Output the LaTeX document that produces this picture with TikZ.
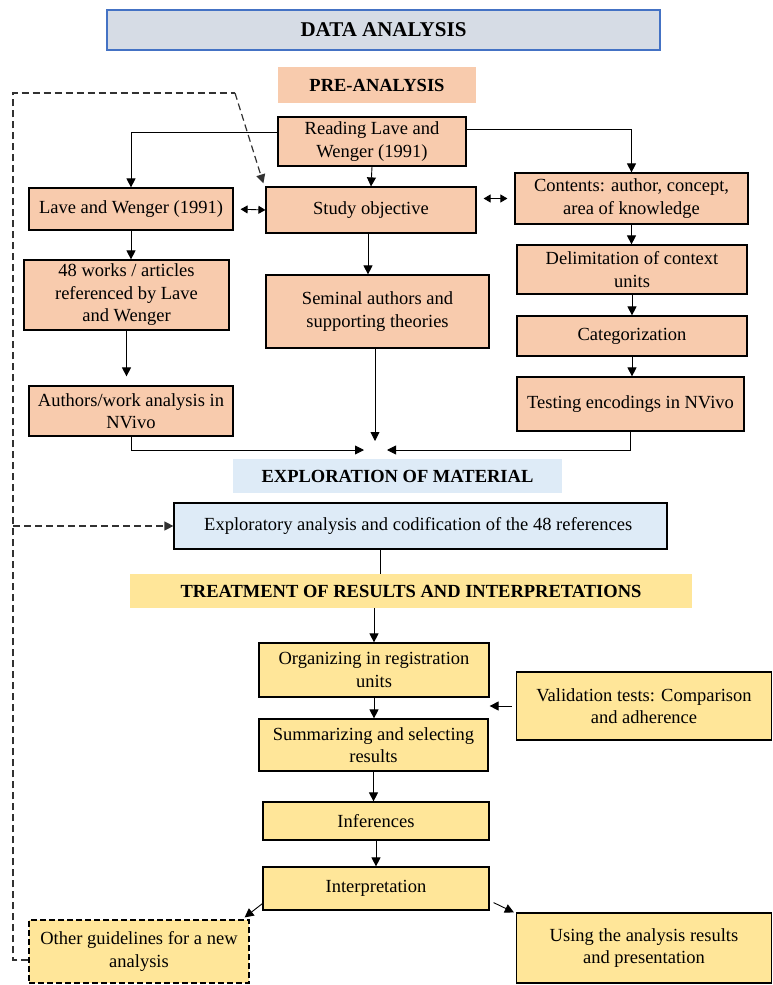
\documentclass[tikz,border=0pt]{standalone}
\usepackage{fontspec}
\setmainfont{Liberation Serif}
\usetikzlibrary{arrows.meta, positioning, calc}
\definecolor{cPreFill}{RGB}{248, 203, 173}
\definecolor{cExpFill}{RGB}{222, 235, 247}
\definecolor{cTreatFill}{RGB}{255, 230, 153}
\definecolor{cTitleFill}{RGB}{214, 220, 229}
\definecolor{cTitleDraw}{RGB}{68, 114, 196}
\definecolor{loopColor}{RGB}{50, 50, 50}
\tikzset{
    font=\fontsize{18.5}{22.5}\selectfont,
    % basic boxes
    block/.style={
        rectangle, draw=black, line width=1.2pt,
        align=center, inner sep=3pt
    },
    headBlock/.style={
        rectangle, align=center, inner sep=3pt,
        font=\fontsize{18.5}{22.5}\selectfont\bfseries
    },
    % phase colours
    preLayer/.style={block, fill=cPreFill},
    expLayer/.style={block, fill=cExpFill},
    treatLayer/.style={block, fill=cTreatFill},
    conn/.style={draw=black, line width=0.9pt, -{Triangle[length=9pt, width=9pt]}},
    biConn/.style={conn, {Triangle[length=7pt, width=8pt]}-{Triangle[length=7pt, width=8pt]}},
    % feedback loop
    loopLine/.style={draw=loopColor, line width=1.2pt, dash pattern=on 7pt off 4pt}
}
\begin{document}
\begin{tikzpicture}[x=1pt, y=-1pt]

	\useasboundingbox (0, 0) rectangle (773, 985);

	% ==========================================
	% Title
	% ==========================================
	\node [block, fill=cTitleFill, draw=cTitleDraw, minimum width=553pt, minimum height=40pt,
		font=\fontsize{21}{24}\selectfont\bfseries] (title) at (383.5, 30) {DATA ANALYSIS};

	% ==========================================
	% 1. Pre-analysis
	% ==========================================
	\node [headBlock, fill=cPreFill, minimum width=198pt, minimum height=36pt] (preHead) at (377, 85) {PRE-ANALYSIS};

	\node [preLayer, minimum width=188pt, minimum height=49pt] (reading) at (372, 141.5) {
		Reading Lave and\\
		Wenger (1991)
	};

	\node [preLayer, minimum width=204pt, minimum height=42pt] (lave) at (131, 209) {Lave and Wenger (1991)};

	\node [preLayer, minimum width=210pt, minimum height=46pt] (study) at (371, 210) {Study objective};

	\node [preLayer, minimum width=233pt, minimum height=51pt] (contents) at (631.5, 198.5) {
		Contents: author, concept,\\
		area of knowledge
	};

	% --- left column ---
	\node [preLayer, minimum width=205pt, minimum height=70pt] (works) at (126.5, 295) {
		48 works / articles\\
		referenced by Lave\\
		and Wenger
	};

	\node [preLayer, minimum width=204pt, minimum height=50pt] (authors) at (131, 411) {
		Authors/work analysis in\\
		NVivo
	};

	% --- middle column ---
	\node [preLayer, minimum width=223pt, minimum height=73pt] (seminal) at (377.5, 311.5) {
		Seminal authors and\\
		supporting theories
	};

	% --- right column ---
	\node [preLayer, minimum width=230pt, minimum height=49pt] (delim) at (632, 269.5) {
		Delimitation of context\\
		units
	};

	\node [preLayer, minimum width=230pt, minimum height=40pt] (categ) at (632, 336) {Categorization};

	\node [preLayer, minimum width=227pt, minimum height=54pt] (testing) at (630.5, 404) {Testing encodings in NVivo};

	% ==========================================
	% 2. Exploration of material
	% ==========================================
	\coordinate (merge) at (375, 450);

	\node [headBlock, fill=cExpFill, minimum width=329pt, minimum height=34pt] (expHead) at (397.5, 476) {EXPLORATION OF MATERIAL};

	\node [expLayer, minimum width=493pt, minimum height=46pt] (explor) at (420.5, 526) {
		Exploratory analysis and codification of the 48 references
	};

	% ==========================================
	% 3. Treatment of results
	% ==========================================
	\node [headBlock, fill=cTreatFill, minimum width=562pt, minimum height=34pt] (treatHead) at (411, 591) {TREATMENT OF RESULTS AND INTERPRETATIONS};

	\node [treatLayer, minimum width=230pt, minimum height=54pt] (organ) at (374, 670) {
		Organizing in registration\\
		units
	};

	\node [treatLayer, minimum width=255pt, minimum height=68pt] (valid) at (644, 706) {
		Validation tests: Comparison\\
		and adherence
	};

	\node [treatLayer, minimum width=229pt, minimum height=52pt] (summ) at (373.5, 745) {
		Summarizing and selecting\\
		results
	};

	\node [treatLayer, minimum width=226pt, minimum height=38pt] (infer) at (376, 821) {Inferences};

	\node [treatLayer, minimum width=226pt, minimum height=43pt] (interp) at (376, 888.5) {Interpretation};

	\node [treatLayer, dash pattern=on 6pt off 3pt, minimum width=220pt, minimum height=63pt] (other) at (139, 951.5) {
		Other guidelines for a new\\
		analysis
	};

	\node [treatLayer, minimum width=255pt, minimum height=70pt] (using) at (644, 948) {
		Using the analysis results\\
		and presentation
	};

	% ==========================================
	% Connectors
	% ==========================================
	\draw [conn] ([yshift=9pt]reading.west) -| (lave.north);
	\draw [conn] ([yshift=12pt]reading.east) -| (contents.north);
	\draw [conn] (reading.south) -- (study.north);

	\draw [biConn, shorten <=7pt] (lave.east) -- (study.west);
	\draw [biConn, shorten <=7pt, shorten >=7pt] (study.east |- contents.west) -- (contents.west);

	\draw [conn] (lave.south) -- (lave.south |- works.north);
	\draw [conn, shorten >=9pt] (works.south) -- (works.south |- authors.north);
	\draw [conn] ([xshift=-3pt]study.south) -- ([xshift=-3pt]study.south |- seminal.north);

	\draw [conn] (contents.south) -- (contents.south |- delim.north);
	\draw [conn] (delim.south) -- (delim.south |- categ.north);
	\draw [conn] (categ.south) -- (categ.south |- testing.north);

	\draw [conn] (authors.south) |- ([xshift=-11pt]merge);
	\draw [conn] (testing.south) |- ([xshift=12pt]merge);
	\draw [conn] (seminal.south -| merge) -- ([yshift=9pt]merge);

	\draw [line width=0.9pt] ([xshift=-40pt]explor.south) -- ([xshift=-40pt]explor.south |- treatHead.north);
	\draw [conn] (treatHead.south -| organ.north) -- (organ.north);

	\draw [conn] (organ.south) -- (organ.south |- summ.north);
	\draw [conn, shorten <=4pt] (valid.west) -- (organ.east |- valid.west);
	\draw [conn] (summ.south) -- (summ.south |- infer.north);
	\draw [conn] (infer.south) -- (interp.north);

	\draw [conn] ([yshift=7pt]interp.south west) -- ([xshift=-5pt, yshift=2pt]other.north east);
	\draw [conn] ([xshift=4pt, yshift=8pt]interp.south east) -- ([xshift=-2pt]using.north west);

	% ==========================================
	% Feedback loop (dashed)
	% ==========================================
	\coordinate (loopBottom) at (13, 960);
	\coordinate (loopTop) at (13, 93);
	\coordinate (loopBend) at (235, 93);
	\coordinate (loopBranch) at (13, 526);

	\draw [loopLine] (other.west |- loopBottom) -- (loopBottom) -- (loopTop) -- (loopBend);
	\draw [loopLine, -{Triangle[length=9pt, width=9pt]}] (loopBend) -- ([xshift=-2pt, yshift=3pt]study.north west);
	\draw [loopLine, -{Triangle[length=9pt, width=9pt]}] (loopBranch) -- (explor.west);

\end{tikzpicture}
\end{document}
